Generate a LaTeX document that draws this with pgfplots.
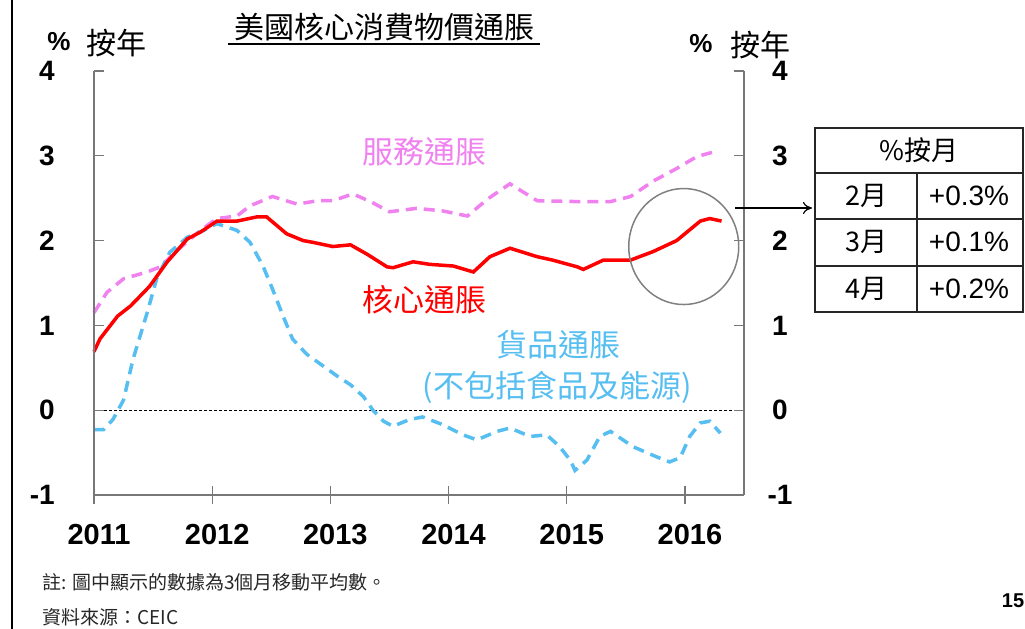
\documentclass[border=0pt]{standalone}
\usepackage{pgfplots}
\pgfplotsset{compat=1.18}
\usepackage{fontspec}
\setmainfont{Liberation Sans}
\newfontfamily\cjk{Noto Sans CJK TC}
\usetikzlibrary{arrows.meta}
\definecolor{corered}{RGB}{255,0,0}
\definecolor{servpink}{RGB}{240,130,240}
\definecolor{goodblue}{RGB}{86,190,240}
\definecolor{axgray}{RGB}{120,120,120}
\begin{document}
\begin{tikzpicture}[x=1bp,y=1bp]
\useasboundingbox (0,0) rectangle (1025,629);
\pgfplotsset{base/.style={at={(94bp,134bp)}, anchor=south west, scale only axis,
  width=650bp, height=424bp, xmin=2011, xmax=2016.5, ymin=-1, ymax=4, clip=false,
  axis line style={-, axgray, line width=1.6bp}}}
% main axis: data + bottom axis
\begin{axis}[base, axis x line*=bottom, axis y line=none,
  xtick={2011,2012,2013,2014,2015,2016},
  xticklabels={2011,2012,2013,2014,2015,2016},
  ytick=\empty,
  tick align=center, major tick length=18bp,
  xtick style={axgray, line width=1.2bp},
  xticklabel style={font=\fontsize{29bp}{30bp}\selectfont\bfseries, anchor=north, inner sep=0pt, yshift=-20bp, xshift=5bp}]
\addplot[black, line width=0.8bp, dash pattern=on 3bp off 2bp] coordinates {(2011,0) (2016.5,0)};
% services (pink dashed)
\addplot[servpink, line width=3.5bp, dash pattern=on 11bp off 7bp] coordinates {
(2011.00,1.15) (2011.11,1.39) (2011.25,1.55) (2011.45,1.63) (2011.56,1.69) (2011.70,1.88)
(2011.90,2.12) (2012.04,2.26) (2012.21,2.29) (2012.32,2.41) (2012.51,2.52) (2012.72,2.43)
(2012.89,2.47) (2013.02,2.47) (2013.19,2.55) (2013.34,2.46) (2013.50,2.34) (2013.73,2.38)
(2013.95,2.35) (2014.16,2.29) (2014.33,2.49) (2014.52,2.67) (2014.75,2.47) (2015.09,2.46)
(2015.37,2.46) (2015.54,2.52) (2015.73,2.70) (2015.93,2.85) (2016.10,2.99) (2016.28,3.06)};
% goods (blue dashed)
\addplot[goodblue, line width=3.5bp, dash pattern=on 11bp off 7bp] coordinates {
(2011.00,-0.23) (2011.08,-0.23) (2011.16,-0.11) (2011.25,0.12) (2011.33,0.60) (2011.45,1.15)
(2011.53,1.55) (2011.64,1.86) (2011.79,2.04) (2011.90,2.10) (2012.04,2.20) (2012.21,2.12)
(2012.32,1.98) (2012.43,1.70) (2012.51,1.43) (2012.60,1.11) (2012.68,0.84) (2012.80,0.66)
(2012.94,0.52) (2013.06,0.40) (2013.17,0.30) (2013.28,0.16) (2013.36,0.00) (2013.45,-0.13)
(2013.53,-0.19) (2013.67,-0.11) (2013.78,-0.08) (2013.95,-0.17) (2014.12,-0.29) (2014.24,-0.35)
(2014.41,-0.25) (2014.52,-0.21) (2014.69,-0.31) (2014.83,-0.29) (2014.94,-0.43) (2015.03,-0.59)
(2015.07,-0.71) (2015.17,-0.59) (2015.28,-0.31) (2015.37,-0.25) (2015.56,-0.43) (2015.76,-0.55)
(2015.87,-0.61) (2015.96,-0.56) (2016.04,-0.31) (2016.13,-0.15) (2016.21,-0.13) (2016.30,-0.27)};
% core (red solid)
\addplot[corered, line width=3.5bp] coordinates {
(2011.00,0.69) (2011.05,0.84) (2011.20,1.11) (2011.31,1.23) (2011.47,1.46) (2011.62,1.75)
(2011.79,2.02) (2011.90,2.10) (2012.04,2.23) (2012.21,2.23) (2012.38,2.28) (2012.46,2.28)
(2012.63,2.08) (2012.77,2.00) (2012.85,1.98) (2013.02,1.93) (2013.17,1.95) (2013.31,1.84)
(2013.48,1.69) (2013.53,1.68) (2013.70,1.75) (2013.84,1.72) (2014.04,1.70) (2014.21,1.63)
(2014.35,1.81) (2014.52,1.91) (2014.75,1.81) (2014.88,1.77) (2015.09,1.69) (2015.14,1.66)
(2015.31,1.77) (2015.54,1.77) (2015.73,1.87) (2015.93,2.00) (2016.13,2.23) (2016.21,2.26)
(2016.31,2.23)};
\draw[gray, line width=1.5bp] (axis cs:2015.99,1.93) ellipse [x radius=55bp, y radius=58bp];
\end{axis}
% left y axis
\begin{axis}[base, axis x line=none, axis y line*=left,
  ytick={-1,0,1,2,3,4}, yticklabels={-1,0,1,2,3,4},
  tick align=inside, major tick length=10bp,
  ytick style={axgray, line width=1.2bp},
  yticklabel style={font=\fontsize{28bp}{30bp}\selectfont\bfseries, anchor=east, inner sep=0pt, xshift=-39bp}]
\end{axis}
% right y axis
\begin{axis}[base, axis x line=none, axis y line*=right,
  ytick={-1,0,1,2,3,4}, yticklabels={-1,0,1,2,3,4},
  tick align=inside, major tick length=10bp,
  ytick style={axgray, line width=1.2bp},
  yticklabel style={font=\fontsize{28bp}{30bp}\selectfont\bfseries, anchor=center, inner sep=0pt, xshift=36bp}]
\end{axis}
% frame line
\draw[black, line width=2.5bp] (12,0) -- (12,629);
% title
\node[font=\cjk\fontsize{30bp}{32bp}\selectfont, inner sep=0pt] at (384,602) {美國核心消費物價通脹};
\draw[black, line width=1.5bp] (228,585) -- (540,585);
% axis unit labels
\node[font=\fontsize{26bp}{28bp}\selectfont\bfseries, inner sep=0pt] at (59,587) {\%};
\node[font=\cjk\fontsize{30bp}{32bp}\selectfont, inner sep=0pt] at (116,586) {按年};
\node[font=\fontsize{26bp}{28bp}\selectfont\bfseries, inner sep=0pt] at (701,585) {\%};
\node[font=\cjk\fontsize{30bp}{32bp}\selectfont, inner sep=0pt] at (760,584) {按年};
% series labels
\node[font=\cjk\fontsize{31bp}{33bp}\selectfont, text=servpink, inner sep=0pt] at (424,477) {服務通脹};
\node[font=\cjk\fontsize{31bp}{33bp}\selectfont, text=corered, inner sep=0pt] at (424,329) {核心通脹};
\node[font=\cjk\fontsize{31bp}{33bp}\selectfont, text=goodblue, inner sep=0pt] at (558,284) {貨品通脹};
\node[font=\cjk\fontsize{31bp}{33bp}\selectfont, text=goodblue, inner sep=0pt] at (557,242) {(不包括食品及能源)};
% arrow to table
\draw[black, line width=1.2bp, -{To[length=9bp,width=12bp]}] (735,421) -- (812,421);
% table
\draw[black!85, line width=1.6bp] (815,501) rectangle (1023,317);
\draw[black!85, line width=1.6bp] (815,456) -- (1023,456);
\draw[black!85, line width=1.6bp] (815,410) -- (1023,410);
\draw[black!85, line width=1.6bp] (815,363) -- (1023,363);
\draw[black!85, line width=1.6bp] (917,456) -- (917,317);
\node[font=\cjk\fontsize{27bp}{29bp}\selectfont, inner sep=0pt] at (919,479) {\%按月};
\node[font=\cjk\fontsize{27bp}{29bp}\selectfont, inner sep=0pt] at (866,433) {2月};
\node[font=\cjk\fontsize{27bp}{29bp}\selectfont, inner sep=0pt] at (866,387) {3月};
\node[font=\cjk\fontsize{27bp}{29bp}\selectfont, inner sep=0pt] at (866,340) {4月};
\node[font=\fontsize{28bp}{30bp}\selectfont, inner sep=0pt] at (969,433) {+0.3\%};
\node[font=\fontsize{28bp}{30bp}\selectfont, inner sep=0pt] at (969,387) {+0.1\%};
\node[font=\fontsize{28bp}{30bp}\selectfont, inner sep=0pt] at (969,340) {+0.2\%};
% footnotes
\node[font=\cjk\fontsize{19bp}{21bp}\selectfont, anchor=west, inner sep=0pt, text=black!85] at (42,47) {註: 圖中顯示的數據為3個月移動平均數。};
\node[font=\cjk\fontsize{19bp}{21bp}\selectfont, anchor=west, inner sep=0pt, text=black!85] at (42,12) {資料來源：CEIC};
\node[font=\fontsize{20bp}{22bp}\selectfont\bfseries, inner sep=0pt] at (1013,28) {15};
\end{tikzpicture}
\end{document}
